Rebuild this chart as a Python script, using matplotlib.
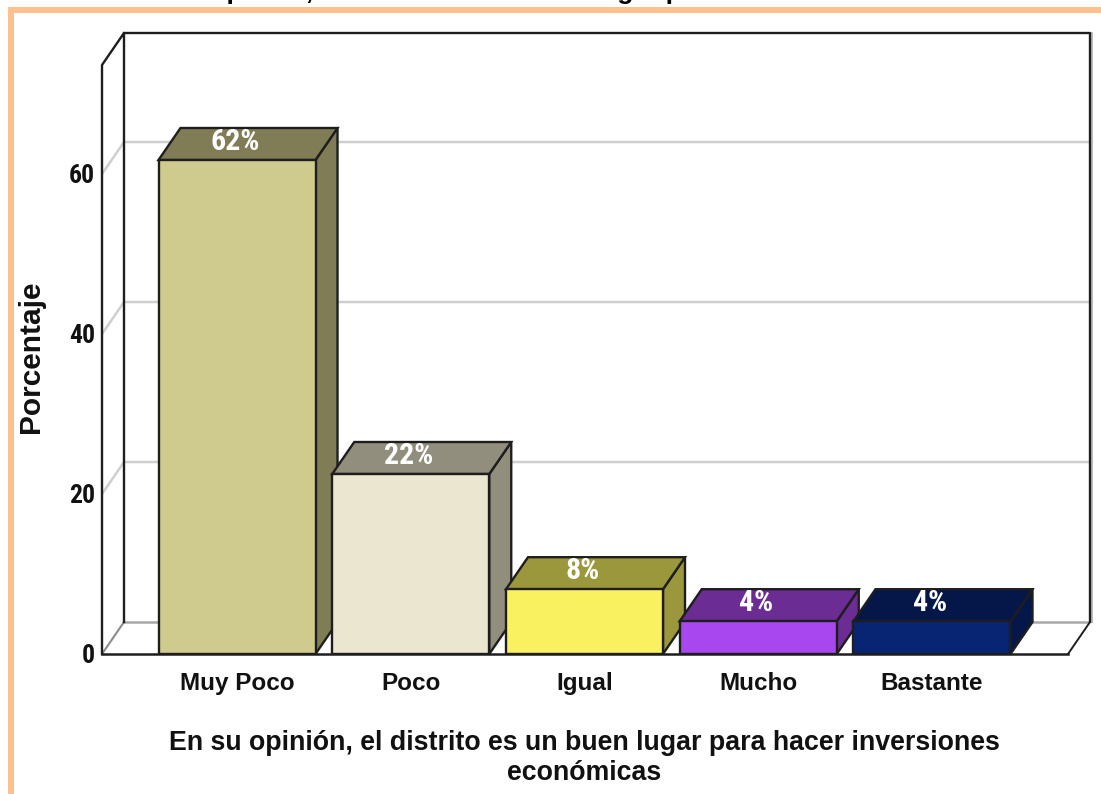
import matplotlib
matplotlib.use("Agg")
import matplotlib.pyplot as plt
from matplotlib.patches import Polygon, Rectangle
from matplotlib import font_manager as fm

categories = ["Muy Poco", "Poco", "Igual", "Mucho", "Bastante"]
values = [61.75, 22.5, 8.1, 4.1, 4.1]
labels = ["62%", "22%", "8%", "4%", "4%"]
front_colors = ["#CFCA8D", "#EBE6D0", "#F9F160", "#A846F0", "#082573"]
side_colors = ["#807C55", "#918E7E", "#9B973C", "#6B2C94", "#041748"]
y_ticks = [0, 20, 40, 60]
y_label = "Porcentaje"
x_label = "En su opinión, el distrito es un buen lugar para hacer inversiones\neconómicas"
title = "En su opinión, el distrito es un buen lugar para hacer inversiones económicas"

names = {f.name for f in fm.fontManager.ttflist}
narrow = next((n for n in ["Liberation Sans Narrow", "Roboto Condensed", "Open Sans Condensed",
                           "Noto Sans Condensed", "Liberation Sans"] if n in names), "Liberation Sans")
plt.rcParams["font.family"] = "Liberation Sans"

W, H = 1101, 794
fig = plt.figure(figsize=(W / 100, H / 100), dpi=100, facecolor="white")

PEACH = "#FDC190"
fig.add_artist(Rectangle((8 / W, 0), 6 / W, 1 - 7 / H, transform=fig.transFigure, color=PEACH, lw=0))
fig.add_artist(Rectangle((8 / W, 1 - 12.5 / H), 1 - 8 / W, 5.5 / H, transform=fig.transFigure, color=PEACH, lw=0))

ax = fig.add_axes([102 / W, 1 - 654 / H, (1090 - 102) / W, (654 - 33) / H])
step = 173.75
ax.set_xlim((102 - 237) / step, (1090 - 237) / step)
ax.set_ylim(0, (654 - 33) / 8)
ax.axis("off")

dx, dy = 22 / step, 32 / 8
x0, x1 = ax.get_xlim()
x1f = x1 - dx
ytop = ax.get_ylim()[1]
DARK, GRID = "#1E1E1E", "#CFCFCF"
LW = 1.7

# Box walls
ax.plot([x0 + dx, x1], [dy, dy], color="#A8A8A8", lw=1.8, zorder=1)
ax.plot([x0, x0 + dx], [0, dy], color="#8C8C8C", lw=1.5, zorder=1)
ax.plot([x1f, x1], [0, dy], color=DARK, lw=1.4, zorder=1)
for t in y_ticks[1:]:
    ax.plot([x0, x0 + dx, x1], [t, t + dy, t + dy], color=GRID, lw=1.8, zorder=1, solid_joinstyle="miter")
ax.plot([x1 + 0.012, x1 + 0.012], [dy, ytop], color="#BDBDBD", lw=1.5, zorder=1, clip_on=False)
ax.plot([x0, x0, x0 + dx, x0 + dx], [0, ytop - dy, ytop, dy], color=DARK, lw=LW, zorder=2, clip_on=False)
ax.plot([x0 + dx, x1, x1], [ytop, ytop, dy], color=DARK, lw=LW, zorder=2, clip_on=False)

# Bars
width = 157 / step
xs = list(range(len(categories)))
for x, v, fc, sc in zip(xs, values, front_colors, side_colors):
    l, r = x - width / 2, x + width / 2
    ax.add_patch(Polygon([(r, 0), (r + dx, dy), (r + dx, v + dy), (r, v)], fc=sc, ec=DARK, lw=LW, zorder=3, joinstyle="miter"))
    ax.add_patch(Polygon([(l, v), (l + dx, v + dy), (r + dx, v + dy), (r, v)], fc=sc, ec=DARK, lw=LW, zorder=3, joinstyle="miter"))
ax.bar(xs, values, width=width, color=front_colors, edgecolor=DARK, linewidth=LW, zorder=4)
ax.plot([x0, x1f], [0, 0], color=DARK, lw=1.8, zorder=5, clip_on=False)

# Value labels
for x, v, s in zip(xs, values, labels):
    ax.text(x - 0.01, v + 2.25, s, color="white", ha="center", va="center", zorder=6,
            family=narrow, weight="bold", fontsize=21.5)

# Tick labels
for t in y_ticks:
    ax.text(x0 - 7 / step, t - 0.3, str(t), ha="right", va="center", family=narrow,
            weight="bold", fontsize=18.5, color="#111111")
for x, c in zip(xs, categories):
    ax.text(x, -36 / 8, c, ha="center", va="baseline", weight="bold", fontsize=17.5, color="#111111")

fig.text(584 / W, 1 - 758 / H, x_label, ha="center", va="center", fontsize=19.3,
         weight="bold", color="#111111", linespacing=1.2)
fig.text(31 / W, 1 - 357 / H, y_label, rotation=90, ha="center", va="center", fontsize=21.5,
         weight="bold", color="#111111")
fig.text(131 / W, 1 + 0.5 / H, title, ha="left", va="baseline", fontsize=19, weight="bold", color="black")

fig.savefig("out.png", dpi=100)
